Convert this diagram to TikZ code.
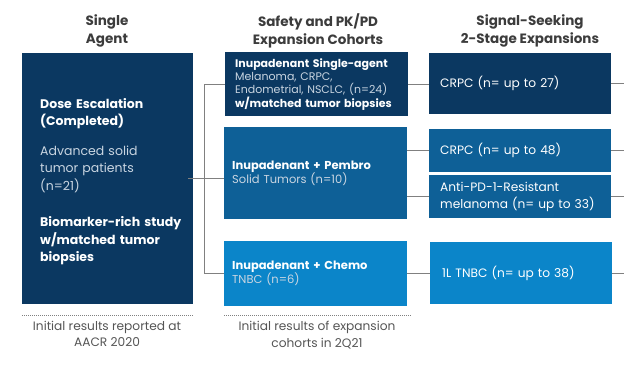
\documentclass[tikz,border=0pt]{standalone}
\usepackage{fontspec}
\setmainfont{Poppins}
\definecolor{navy}{HTML}{0B3861}
\definecolor{midblue}{HTML}{0E6097}
\definecolor{lightblue}{HTML}{0B85C9}
\definecolor{subtext}{HTML}{C9D5E1}
\definecolor{linegray}{HTML}{808080}
\definecolor{headgray}{HTML}{3C3C3C}
\definecolor{footgray}{HTML}{555555}
\tikzset{
  cohort/.style={anchor=north west, inner xsep=#1, inner ysep=0pt, align=left,
    text=white},
  header/.style={font=\bfseries\fontsize{13.5}{18.5}\selectfont, text=headgray, align=center},
  footer/.style={font=\fontsize{12.2}{16.5}\selectfont, text=footgray, align=center},
  link/.style={draw=linegray, line width=0.8pt},
  dots/.style={draw=linegray, line width=0.7pt, dash pattern=on 0.7pt off 1.3pt}
}
\newcommand{\sub}[1]{{\color{subtext}#1}}
\begin{document}
\begin{tikzpicture}[x=1pt, y=-1pt]
  \useasboundingbox (0,0) rectangle (624,372);

  % Kolumny - naglowki
  \node[header] (h1) at (107,31) {Single\\Agent};
  \node[header] (h2) at (318,31) {Safety and PK/PD\\Expansion Cohorts};
  \node[header] (h3) at (530,31) {Signal-Seeking\\2-Stage Expansions};

  % Eskalacja dawki
  \node[cohort=18pt, fill=navy, minimum width=171pt, minimum height=251pt, text width=135pt,
    font=\fontsize{12.5}{17.5}\selectfont] (dose) at (22,53)
    {\rule{0pt}{16pt}\textbf{Dose Escalation}\\\textbf{(Completed)}\\[12pt]
     \sub{Advanced solid}\\\sub{tumor patients}\\\sub{(n=21)}\\[19pt]
     \mbox{\textbf{Biomarker-rich study}}\\\textbf{w/matched tumor}\\\textbf{biopsies}};

  % Kohorty rozszerzone
  \node[cohort=10pt, fill=navy, minimum width=183pt, minimum height=64pt, text width=163pt,
    font=\fontsize{11}{13.4}\selectfont] (single) at (225,52)
    {\textbf{Inupadenant Single-agent}\\\sub{Melanoma, CRPC,}\\
     \sub{Endometrial, NSCLC, (n=24)}\\\textbf{w/matched tumor biopsies}};
  \node[cohort=8pt, fill=midblue, minimum width=183pt, minimum height=92pt, text width=167pt,
    font=\fontsize{11.5}{14.7}\selectfont] (pembro) at (224,127)
    {\textbf{Inupadenant + Pembro}\\\sub{Solid Tumors (n=10)}};
  \node[cohort=8pt, fill=lightblue, minimum width=183pt, minimum height=65pt, text width=167pt,
    font=\fontsize{11.5}{14}\selectfont] (chemo) at (224,241)
    {\textbf{Inupadenant + Chemo}\\\sub{TNBC (n=6)}};

  % Rozszerzenia dwuetapowe
  \node[cohort=11pt, fill=navy, minimum width=182pt, minimum height=61pt, text width=160pt,
    font=\fontsize{12.2}{16.5}\selectfont] (r27) at (429,53) {CRPC (n= up to 27)};
  \node[cohort=11pt, fill=midblue, minimum width=182pt, minimum height=43pt, text width=160pt,
    font=\fontsize{12.2}{16.5}\selectfont] (r48) at (429,129) {CRPC (n= up to 48)};
  \node[cohort=11pt, fill=midblue, minimum width=182pt, minimum height=43pt, text width=160pt,
    font=\fontsize{12.2}{16.5}\selectfont] (r33) at (429,175)
    {Anti-PD-1-Resistant\\melanoma (n= up to 33)};
  \node[cohort=12pt, fill=lightblue, minimum width=182pt, minimum height=62pt, text width=158pt,
    font=\fontsize{12.2}{16.5}\selectfont] (r38) at (430,242) {1L TNBC (n= up to 38)};

  % Polaczenia
  \coordinate (trunk) at (204,0);
  \coordinate (edge) at (624,0);
  \draw[link] (single.west) -- (single.west -| trunk) -- (chemo.west -| trunk) -- (chemo.west);
  \draw[link] ([xshift=-5pt]dose.east) -- (dose.east -| pembro.west);
  \draw[link] (single.east) -- (single.east -| r27.west);
  \draw[link] (r48.west -| pembro.east) -- (r48.west);
  \draw[link] (r33.west -| pembro.east) -- (r33.west);
  \draw[link] (chemo.east) -- (chemo.east -| r38.west);
  \foreach \n in {r27, r48, r33, r38}
    \draw[link] (\n.east) -- (\n.east -| edge);

  % Wyniki
  \draw[dots] ([yshift=-11pt]dose.south west) -- ([yshift=-11pt]dose.south east);
  \draw[dots] ([yshift=-9pt]chemo.south west) -- ([yshift=-9pt,xshift=3pt]chemo.south east);
  \node[footer] (f1) at (107,334) {Initial results reported at\\AACR 2020};
  \node[footer] (f2) at (317,335) {Initial results of expansion\\cohorts in 2Q21};
\end{tikzpicture}
\end{document}
